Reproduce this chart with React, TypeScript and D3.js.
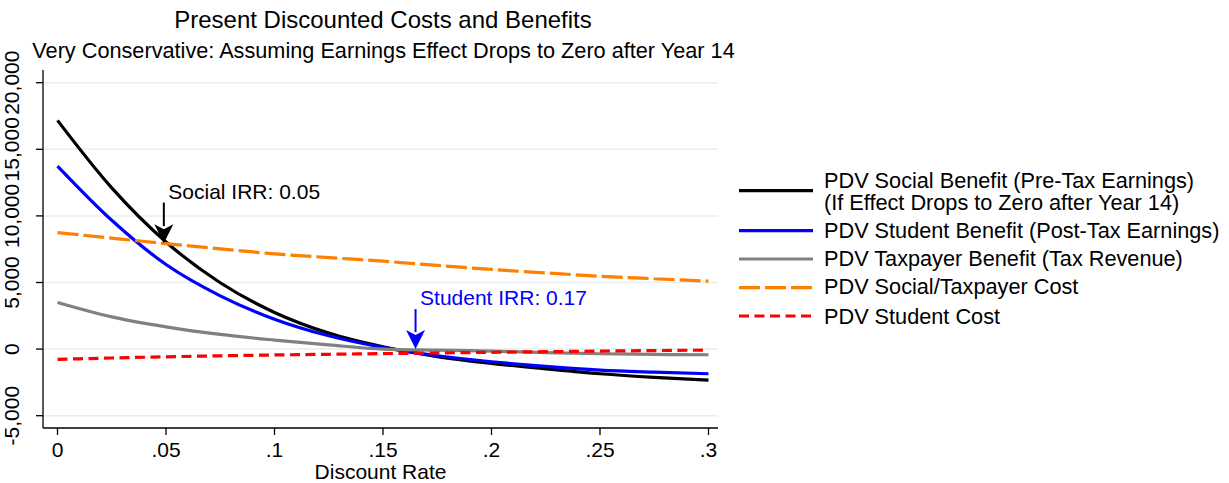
import React from "react";
import * as d3 from "d3";

const rates = [0, 0.025, 0.05, 0.075, 0.1, 0.125, 0.15, 0.175, 0.2, 0.225, 0.25, 0.275, 0.3];
const socialBenefit = [17170, 12100, 8040, 4980, 2750, 1200, 175, -560, -1075, -1480, -1850, -2120, -2325];
const studentBenefit = [13740, 9670, 6350, 4000, 2250, 1000, 125, -500, -950, -1300, -1575, -1730, -1850];
const taxpayerBenefit = [3500, 2420, 1670, 1100, 680, 320, 0, -80, -150, -260, -350, -400, -425];
const socialCost = [8750, 8330, 7920, 7530, 7150, 6870, 6600, 6280, 5980, 5720, 5470, 5280, 5100];
const studentCost = [-770, -670, -577, -505, -440, -390, -340, -290, -240, -195, -150, -110, -75];

const xTicks = [0, 0.05, 0.1, 0.15, 0.2, 0.25, 0.3];
const xTickLabels = ["0", ".05", ".1", ".15", ".2", ".25", ".3"];
const yTicks = [-5000, 0, 5000, 10000, 15000, 20000];
const yTickLabels = ["-5,000", "0", "5,000", "10,000", "15,000", "20,000"];

const seriesNames = [
  ["PDV Social Benefit (Pre-Tax Earnings)", "(If Effect Drops to Zero after Year 14)"],
  ["PDV Student Benefit (Post-Tax Earnings)"],
  ["PDV Taxpayer Benefit (Tax Revenue)"],
  ["PDV Social/Taxpayer Cost"],
  ["PDV Student Cost"],
];
const seriesValues = [socialBenefit, studentBenefit, taxpayerBenefit, socialCost, studentCost];
const seriesColors = ["#000000", "#0000ff", "#808080", "#ff8000", "#ff0000"];
const seriesDash = [null, null, null, "21 5", "10 5.5"];

const irrLabels = ["Social IRR: 0.05", "Student IRR: 0.17"];
const irrRate = [0.049, 0.165];
const irrArrowTop = [11000, 3000];
const irrArrowTip = [7950, 0];
const irrColors = ["#000000", "#0000ff"];

const title = "Present Discounted Costs and Benefits";
const subtitle = "Very Conservative: Assuming Earnings Effect Drops to Zero after Year 14";
const xTitle = "Discount Rate";

const FONT = "'Liberation Sans', Arial, Helvetica, sans-serif";

export default function App() {
  const W = 1229, H = 483;
  const plotLeft = 43, plotRight = 718, plotTop = 70, plotBottom = 428;
  const x = d3.scaleLinear().domain([0, 0.3]).range([57.5, 708.5]);
  const y = d3.scaleLinear().domain([-5000, 20000]).range([415.7, 82.7]);

  const line = d3
    .line<number>()
    .x((_, i) => x(rates[i]))
    .y((d) => y(d))
    .curve(d3.curveMonotoneX);

  const fs = 21;
  const legendFs = 21.7;

  const legendX1 = 739, legendX2 = 813, legendTextX = 824;
  const legendLineY = [190.7, 230.7, 259, 287.7, 316];
  const legendTextY = [188.3, 237.7, 266, 294.3, 324];

  return (
    <svg
      width={W}
      height={H}
      style={{ position: "absolute", left: 0, top: 0, background: "#fff" }}
      fontFamily={FONT}
    >
      <rect x={0} y={0} width={W} height={H} fill="#fff" />
      {yTicks.map((t) => (
        <line key={"g" + t} x1={plotLeft} x2={plotRight} y1={y(t)} y2={y(t)} stroke="#e7eef1" strokeWidth={1.5} />
      ))}
      <line x1={plotLeft} x2={plotLeft} y1={plotTop} y2={plotBottom} stroke="#000" strokeWidth={1.3} />
      <line x1={plotLeft} x2={plotRight} y1={plotBottom} y2={plotBottom} stroke="#000" strokeWidth={1.3} />
      {yTicks.map((t, i) => (
        <g key={"yt" + t}>
          <line x1={plotLeft - 7} x2={plotLeft} y1={y(t)} y2={y(t)} stroke="#000" strokeWidth={1.3} />
          <text
            transform={`translate(${19},${y(t)}) rotate(-90)`}
            textAnchor="middle"
            fontSize={fs}
            fill="#000"
          >
            {yTickLabels[i]}
          </text>
        </g>
      ))}
      {xTicks.map((t, i) => (
        <g key={"xt" + t}>
          <line x1={x(t)} x2={x(t)} y1={plotBottom} y2={plotBottom + 7} stroke="#000" strokeWidth={1.3} />
          <text x={x(t)} y={457} textAnchor="middle" fontSize={fs} fill="#000">
            {xTickLabels[i]}
          </text>
        </g>
      ))}
      <text x={(plotLeft + plotRight) / 2} y={479} textAnchor="middle" fontSize={fs} fill="#000">
        {xTitle}
      </text>
      {seriesValues.map((vals, i) => (
        <path
          key={"s" + i}
          d={line(vals) || ""}
          fill="none"
          stroke={seriesColors[i]}
          strokeWidth={3.2}
          strokeDasharray={seriesDash[i] || undefined}
        />
      ))}
      {irrLabels.map((lab, i) => {
        const ax = x(irrRate[i]);
        const yTop = y(irrArrowTop[i]);
        const yTip = y(irrArrowTip[i]);
        const headLen = 19, headHalf = 9.5;
        return (
          <g key={"a" + i}>
            <text x={ax + 4.5} y={yTop - 4} fontSize={fs} fill={irrColors[i]}>
              {lab}
            </text>
            <line x1={ax} x2={ax} y1={yTop} y2={yTip - headLen + 2} stroke={irrColors[i]} strokeWidth={2} />
            <path
              d={`M${ax},${yTip} L${ax - headHalf},${yTip - headLen} L${ax},${yTip - headLen + 5} L${ax + headHalf},${yTip - headLen} Z`}
              fill={irrColors[i]}
            />
          </g>
        );
      })}
      <text x={383} y={28} textAnchor="middle" fontSize={24} fill="#000">
        {title}
      </text>
      <text x={383.5} y={58} textAnchor="middle" fontSize={legendFs} fill="#000">
        {subtitle}
      </text>
      {seriesNames.map((names, i) => (
        <g key={"l" + i}>
          <line
            x1={legendX1}
            x2={legendX2}
            y1={legendLineY[i]}
            y2={legendLineY[i]}
            stroke={seriesColors[i]}
            strokeWidth={3.2}
            strokeDasharray={seriesDash[i] || undefined}
          />
          {names.map((n, j) => (
            <text key={j} x={legendTextX} y={legendTextY[i] + j * 21.7} fontSize={legendFs} fill="#000">
              {n}
            </text>
          ))}
        </g>
      ))}
    </svg>
  );
}
